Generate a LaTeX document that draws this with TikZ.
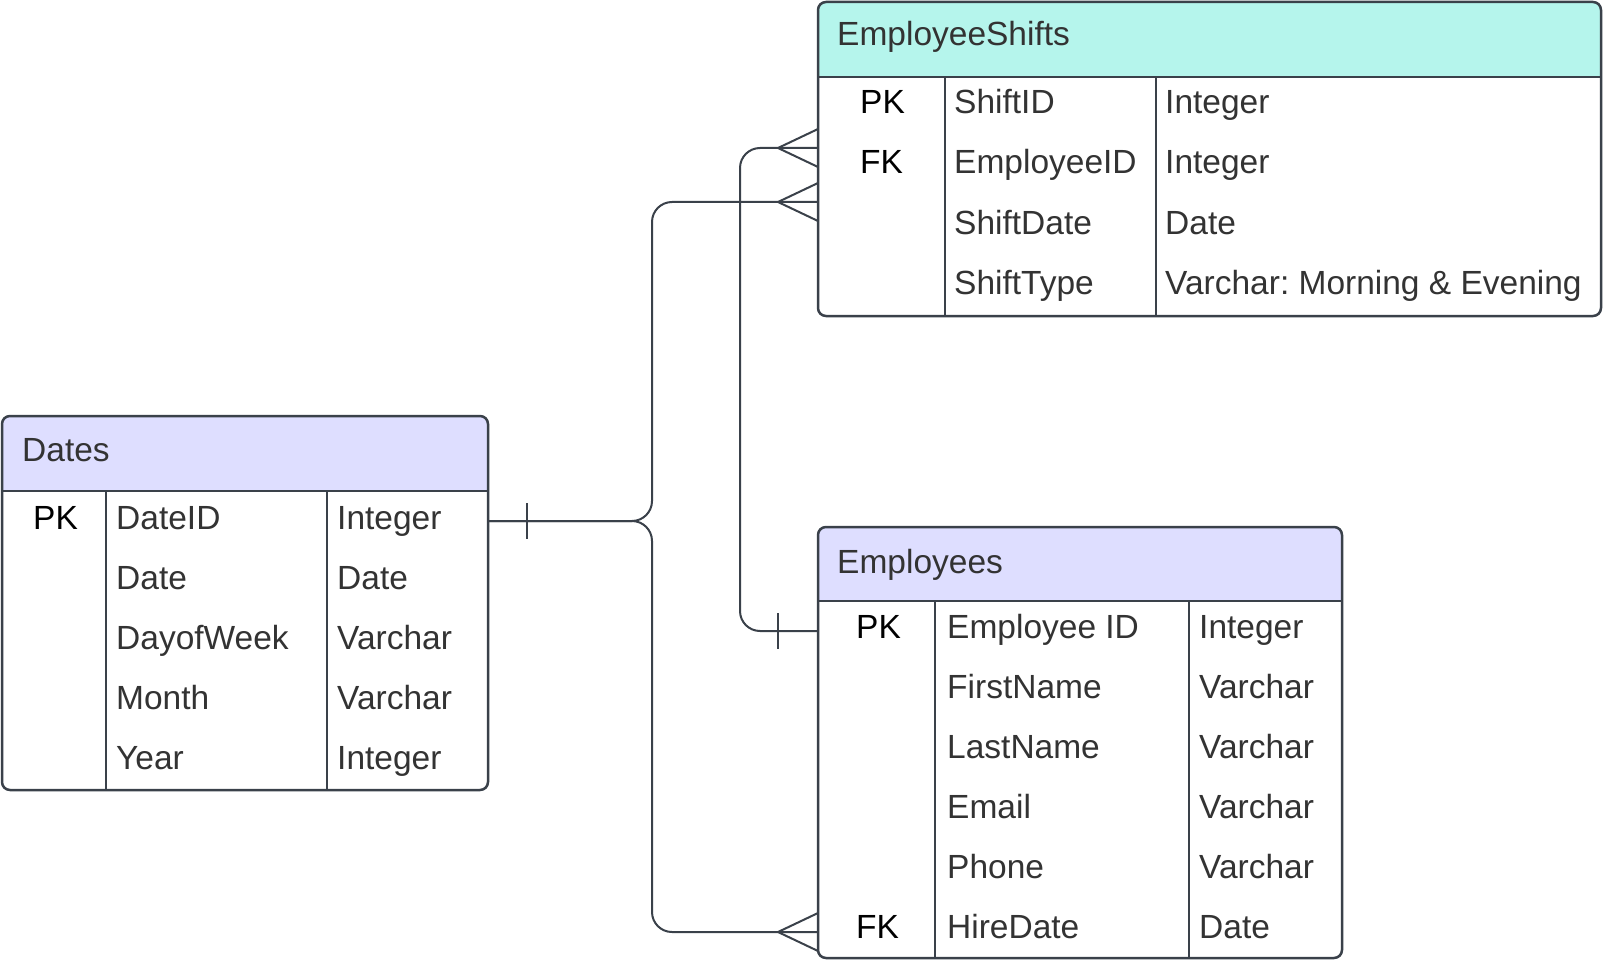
\documentclass[tikz,border=0pt]{standalone}
\usepackage{fontspec}
\setmainfont{Liberation Sans}
\frenchspacing
\usetikzlibrary{calc}
\definecolor{erline}{HTML}{3A414A}
\definecolor{ertext}{HTML}{333333}
\definecolor{hdrlav}{HTML}{DEDEFF}
\definecolor{hdrmint}{HTML}{B5F5EC}
\tikzset{
  cell/.style={anchor=base west, inner sep=0pt, text=ertext, font=\fontsize{33.5}{40}\selectfont},
  keycell/.style={cell, text=black},
  border/.style={draw=erline, line width=2.5pt},
  link/.style={draw=erline, line width=2pt, rounded corners=20pt},
  tick/.style={draw=erline, line width=2pt},
}

\begin{document}
\begin{tikzpicture}[x=1pt, y=-1pt]
  \useasboundingbox (0,0) rectangle (1603,960);

  % connector ends
  \coordinate (DatesOut) at (488,521);
  \coordinate (ShiftsEmpIn) at (818,148);
  \coordinate (ShiftsDateIn) at (818,202);
  \coordinate (EmpIDOut) at (818,631);
  \coordinate (EmpHireIn) at (818,932);

  % connectors
  \draw[link] (DatesOut) -| (652,202) -- (ShiftsDateIn);
  \draw[link] (DatesOut) -| (652,932) -- (EmpHireIn);
  \draw[link] (EmpIDOut) -| (740,148) -- (ShiftsEmpIn);
  \draw[tick] ($(DatesOut)+(39,-18)$) -- ($(DatesOut)+(39,18)$);
  \draw[tick] ($(EmpIDOut)+(-40,-18)$) -- ($(EmpIDOut)+(-40,18)$);
  \draw[tick] ($(ShiftsEmpIn)+(0,-19)$) -- ($(ShiftsEmpIn)+(-40,0)$) -- ($(ShiftsEmpIn)+(0,19)$);
  \draw[tick] ($(ShiftsDateIn)+(0,-19)$) -- ($(ShiftsDateIn)+(-40,0)$) -- ($(ShiftsDateIn)+(0,19)$);
  \draw[tick] ($(EmpHireIn)+(0,-19)$) -- ($(EmpHireIn)+(-40,0)$) -- ($(EmpHireIn)+(0,19)$);

  % Dates
  \begin{scope}
    \clip[rounded corners=8pt] (2,416) rectangle (488,790);
    \fill[white] (2,416) rectangle (488,790);
    \fill[hdrlav] (2,416) rectangle (488,491);
  \end{scope}
  \draw[border, rounded corners=8pt] (2,416) rectangle (488,790);
  \draw[border] (2,491) -- (488,491);
  \draw[border] (106,491) -- (106,790);
  \draw[border] (327,491) -- (327,790);
  \node[cell] (DatesTitle) at (22,461) {Dates};
  \node[keycell] (DatesPK) at (33,529) {PK};
  \node[cell] (DatesDateID) at (116,529) {DateID};
  \node[cell] (DatesDateIDType) at (337,529) {Integer};
  \node[cell] (DatesDate) at (116,589) {Date};
  \node[cell] (DatesDateType) at (337,589) {Date};
  \node[cell] (DatesDay) at (116,649) {DayofWeek};
  \node[cell] (DatesDayType) at (337,649) {Varchar};
  \node[cell] (DatesMonth) at (116,709) {Month};
  \node[cell] (DatesMonthType) at (337,709) {Varchar};
  \node[cell] (DatesYear) at (116,769) {Year};
  \node[cell] (DatesYearType) at (337,769) {Integer};

  % EmployeeShifts
  \begin{scope}
    \clip[rounded corners=8pt] (818,2) rectangle (1601,316);
    \fill[white] (818,2) rectangle (1601,316);
    \fill[hdrmint] (818,2) rectangle (1601,77);
  \end{scope}
  \draw[border, rounded corners=8pt] (818,2) rectangle (1601,316);
  \draw[border] (818,77) -- (1601,77);
  \draw[border] (945,77) -- (945,316);
  \draw[border] (1156,77) -- (1156,316);
  \node[cell] (ShiftsTitle) at (837,46) {EmployeeShifts};
  \node[keycell] (ShiftsPK) at (860,114) {PK};
  \node[cell] (ShiftsID) at (954,114) {ShiftID};
  \node[cell] (ShiftsIDType) at (1165,114) {Integer};
  \node[keycell] (ShiftsFK) at (860,174) {FK};
  \node[cell] (ShiftsEmp) at (954,174) {EmployeeID};
  \node[cell] (ShiftsEmpType) at (1165,174) {Integer};
  \node[cell] (ShiftsDate) at (954,234) {ShiftDate};
  \node[cell] (ShiftsDateType) at (1165,234) {Date};
  \node[cell] (ShiftsType) at (954,294) {ShiftType};
  \node[cell] (ShiftsTypeType) at (1165,294) {Varchar: Morning \& Evening};

  % Employees
  \begin{scope}
    \clip[rounded corners=8pt] (818,527) rectangle (1342,958);
    \fill[white] (818,527) rectangle (1342,958);
    \fill[hdrlav] (818,527) rectangle (1342,601);
  \end{scope}
  \draw[border, rounded corners=8pt] (818,527) rectangle (1342,958);
  \draw[border] (818,601) -- (1342,601);
  \draw[border] (935,601) -- (935,958);
  \draw[border] (1189,601) -- (1189,958);
  \node[cell] (EmpTitle) at (837,573) {Employees};
  \node[keycell] (EmpPK) at (856,638) {PK};
  \node[cell] (EmpID) at (947,638) {Employee ID};
  \node[cell] (EmpIDType) at (1199,638) {Integer};
  \node[cell] (EmpFirst) at (947,698) {FirstName};
  \node[cell] (EmpFirstType) at (1199,698) {Varchar};
  \node[cell] (EmpLast) at (947,758) {LastName};
  \node[cell] (EmpLastType) at (1199,758) {Varchar};
  \node[cell] (EmpEmail) at (947,818) {Email};
  \node[cell] (EmpEmailType) at (1199,818) {Varchar};
  \node[cell] (EmpPhone) at (947,878) {Phone};
  \node[cell] (EmpPhoneType) at (1199,878) {Varchar};
  \node[keycell] (EmpFK) at (856,938) {FK};
  \node[cell] (EmpHire) at (947,938) {HireDate};
  \node[cell] (EmpHireType) at (1199,938) {Date};
\end{tikzpicture}
\end{document}
